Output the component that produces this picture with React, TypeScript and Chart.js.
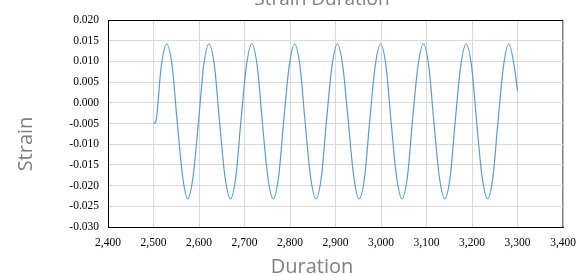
import React, { useEffect, useRef } from "react";
import { Chart, registerables } from "chart.js";

Chart.register(...registerables);

// Data
const durations: number[] = [
  2500, 2505, 2517, 2529, 2541, 2552, 2564, 2575, 2587, 2599, 2610, 2622,
  2634, 2645, 2657, 2669, 2681, 2692, 2704, 2716,
  2728, 2739, 2751, 2763, 2775, 2786, 2798, 2810,
  2822, 2833, 2845, 2857, 2869, 2880, 2892, 2904,
  2916, 2928, 2940, 2952, 2964, 2975, 2987, 2999,
  3011, 3022, 3034, 3046, 3058, 3069, 3081, 3093,
  3105, 3116, 3128, 3140, 3152, 3163, 3175, 3187,
  3199, 3210, 3222, 3234, 3246, 3257, 3269, 3281,
  3293, 3300,
];

const strains: number[] = [
  -0.005, -0.0045, 0.0088, 0.0142, 0.0088, -0.0045, -0.0178, -0.0232, -0.0178, -0.0045, 0.0088, 0.0142,
  0.0088, -0.0045, -0.0178, -0.0232, -0.0178, -0.0045, 0.0088, 0.0142,
  0.0088, -0.0045, -0.0178, -0.0232, -0.0178, -0.0045, 0.0088, 0.0142,
  0.0088, -0.0045, -0.0178, -0.0232, -0.0178, -0.0045, 0.0088, 0.0142,
  0.0088, -0.0045, -0.0178, -0.0232, -0.0178, -0.0045, 0.0088, 0.0142,
  0.0088, -0.0045, -0.0178, -0.0232, -0.0178, -0.0045, 0.0088, 0.0142,
  0.0088, -0.0045, -0.0178, -0.0232, -0.0178, -0.0045, 0.0088, 0.0142,
  0.0088, -0.0045, -0.0178, -0.0232, -0.0178, -0.0045, 0.0088, 0.0142,
  0.0086, 0.0029,
];

const xMin = 2400;
const xMax = 3400;
const xStep = 100;
const yMin = -0.03;
const yMax = 0.02;
const yStep = 0.005;

const chartTitle = "Strain Duration";
const xTitle = "Duration";
const yTitle = "Strain";

export default function App() {
  const ref = useRef<HTMLCanvasElement>(null);

  useEffect(() => {
    document.body.style.margin = "0";
    const canvas = ref.current;
    if (!canvas) return;

    const titlesPlugin = {
      id: "titlesPlugin",
      afterDraw(chart: any) {
        const ctx = chart.ctx;
        ctx.save();
        ctx.fillStyle = "#7f7f7f";
        ctx.textAlign = "center";
        ctx.textBaseline = "alphabetic";
        ctx.font = "19px 'Open Sans'";
        ctx.fillText(chartTitle, 322, 5);
        ctx.font = "20px 'Open Sans'";
        ctx.fillText(xTitle, 312, 273);
        ctx.translate(32, 144);
        ctx.rotate(-Math.PI / 2);
        ctx.fillText(yTitle, 0, 0);
        ctx.restore();
      },
    };

    const chart = new Chart(canvas, {
      type: "line",
      data: {
        datasets: [
          {
            label: "Strain",
            data: durations.map((d, i) => ({ x: d, y: strains[i] })),
            borderColor: "#5b9bd5",
            borderWidth: 1.2,
            pointRadius: 0,
            fill: false,
            cubicInterpolationMode: "monotone",
          },
        ],
      },
      options: {
        animation: false,
        responsive: false,
        layout: { padding: { left: 0, right: 21, top: 20, bottom: 0 } },
        plugins: {
          legend: { display: false },
          tooltip: { enabled: false },
          title: { display: false },
        },
        scales: {
          x: {
            type: "linear",
            min: xMin,
            max: xMax,
            afterFit: (s: any) => {
              s.height = 49;
            },
            ticks: {
              stepSize: xStep,
              padding: 9,
              color: "#000000",
              font: { family: "'Liberation Serif'", size: 11.5 },
              callback: (v: any) => Number(v).toLocaleString("en-US"),
              maxRotation: 0,
            },
            grid: {
              drawTicks: false,
              color: (c: any) =>
                c.tick && Math.abs(c.tick.value - xMax) < 1e-6 ? "#7f7f7f" : "#d9d9d9",
              lineWidth: (c: any) =>
                c.tick && Math.abs(c.tick.value - xMax) < 1e-6 ? 1.5 : 1,
            },
            border: { color: "#000000", width: 1 },
          },
          y: {
            type: "linear",
            min: yMin,
            max: yMax,
            afterFit: (s: any) => {
              s.width = 108;
            },
            ticks: {
              stepSize: yStep,
              padding: 9,
              color: "#000000",
              font: { family: "'Liberation Serif'", size: 11.5 },
              callback: (v: any) => {
                const n = Number(v);
                return Math.abs(n) < 1e-9 ? "0.000" : n.toFixed(3);
              },
            },
            grid: {
              drawTicks: false,
              color: (c: any) =>
                c.tick && Math.abs(c.tick.value - yMax) < 1e-9 ? "#000000" : "#d9d9d9",
            },
            border: { color: "#000000", width: 1 },
          },
        },
      },
      plugins: [titlesPlugin],
    });

    return () => chart.destroy();
  }, []);

  return (
    <div style={{ width: 585, height: 276 }}>
      <canvas ref={ref} width={585} height={276} style={{ display: "block" }} />
    </div>
  );
}
